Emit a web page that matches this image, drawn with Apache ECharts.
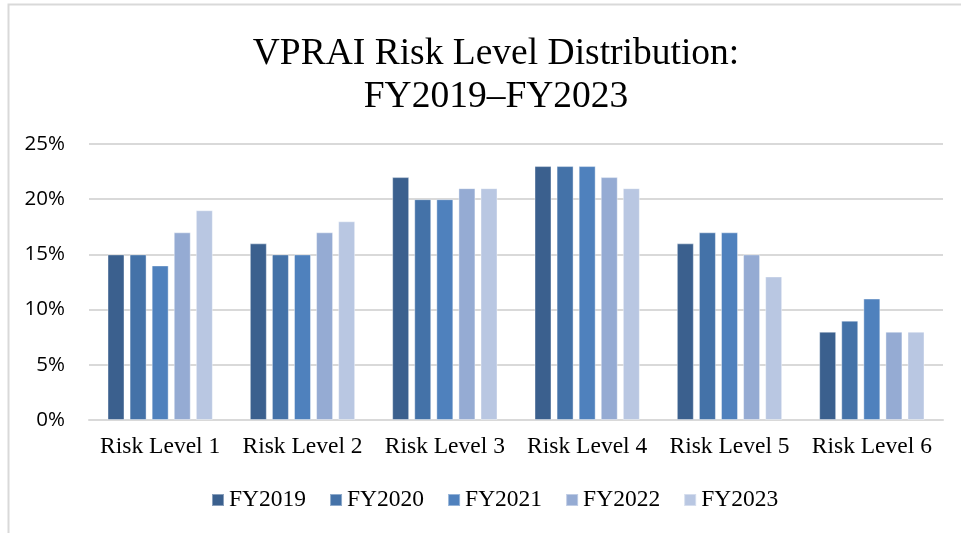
<!DOCTYPE html>
<html>
<head>
<meta charset="utf-8">
<script src="https://cdn.jsdelivr.net/npm/echarts@6/dist/echarts.min.js"></script>
<style>
  html, body { margin: 0; padding: 0; background: #fff; }
  #chart { width: 961px; height: 533px; }
</style>
</head>
<body>
<div id="chart"></div>
<script>
const categories = ['Risk Level 1', 'Risk Level 2', 'Risk Level 3', 'Risk Level 4', 'Risk Level 5', 'Risk Level 6']
const years = ['FY2019', 'FY2020', 'FY2021', 'FY2022', 'FY2023']
const fy2019 = [15, 16, 22, 23, 16, 8]
const fy2020 = [15, 15, 20, 23, 17, 9]
const fy2021 = [14, 15, 20, 23, 17, 11]
const fy2022 = [17, 17, 21, 22, 15, 8]
const fy2023 = [19, 18, 21, 21, 13, 8]
const colors = ['#3b608e', '#4472a8', '#4f81bd', '#95abd3', '#b9c7e2']

const allSeries = [fy2019, fy2020, fy2021, fy2022, fy2023]
const chart = echarts.init(document.getElementById('chart'))

const option = {
  animation: false,
  backgroundColor: '#fff',
  color: colors,
  title: {
    text: 'VPRAI Risk Level Distribution:\nFY2019–FY2023',
    left: 491,
    top: 28,
    textAlign: 'center',
    textStyle: {
      fontFamily: 'Liberation Serif',
      fontSize: 37.5,
      fontWeight: 'normal',
      color: '#000',
      lineHeight: 43
    }
  },
  graphic: [{
    type: 'rect',
    shape: { x: 8.5, y: 4.5, width: 1000, height: 600 },
    style: { fill: 'none', stroke: '#d9d9d9', lineWidth: 2 },
    silent: true
  }],
  legend: {
    data: years,
    bottom: 16,
    left: 206,
    icon: 'rect',
    itemWidth: 12,
    itemHeight: 12,
    itemGap: 23,
    textStyle: { fontFamily: 'Liberation Serif', fontSize: 23.5, color: '#000' }
  },
  grid: { left: 89, right: 18, top: 144, bottom: 113 },
  xAxis: {
    type: 'category',
    data: categories,
    axisTick: { show: false },
    axisLine: { lineStyle: { color: '#d9d9d9', width: 2 } },
    axisLabel: { interval: 0, fontFamily: 'Liberation Serif', fontSize: 23.5, color: '#000', margin: 15 }
  },
  yAxis: {
    type: 'value',
    min: 0,
    max: 25,
    interval: 5,
    axisLabel: {
      formatter: '{value}%',
      fontFamily: 'Open Sans',
      fontSize: 20.5,
      color: '#000',
      margin: 24
    },
    splitLine: { lineStyle: { color: '#d9d9d9', width: 2 } }
  },
  series: years.map((y, i) => ({
    name: y,
    type: 'bar',
    data: allSeries[i],
    barGap: '30%',
    barCategoryGap: '26%',
    itemStyle: { color: colors[i], borderColor: 'rgba(255,255,255,0.4)', borderWidth: 1 }
  }))
}
chart.setOption(option)
</script>
</body>
</html>
